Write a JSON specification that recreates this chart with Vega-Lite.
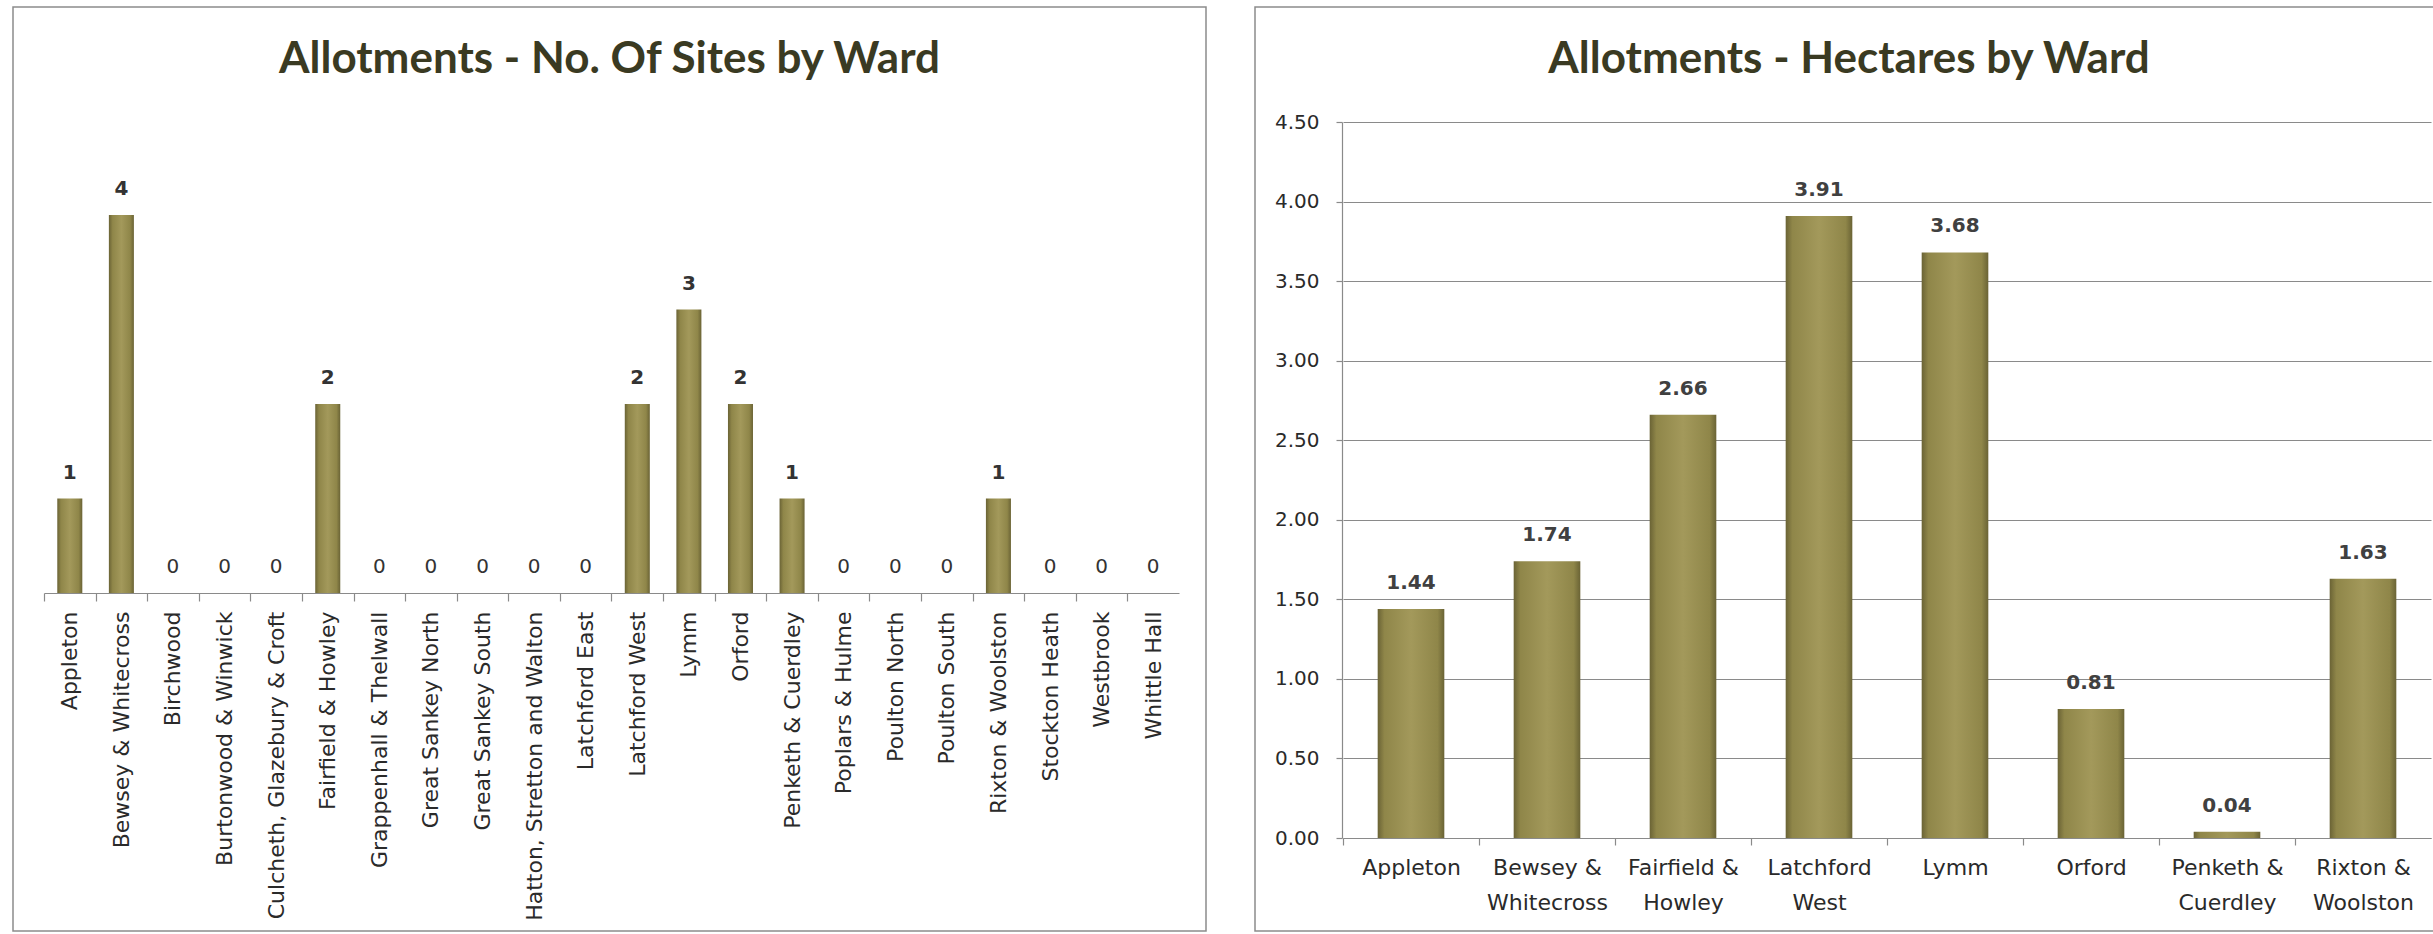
{
  "$schema": "https://vega.github.io/schema/vega-lite/v6.json",
  "padding": {"left": 12, "top": 6, "right": 0, "bottom": 0},
  "background": "white",
  "spacing": 47,
  "config": {
    "view": {"stroke": "#8c8c8c", "strokeWidth": 1.5},
    "font": "DejaVu Sans",
    "axis": {
      "labelFont": "DejaVu Sans",
      "labelColor": "#2a2a2a",
      "domainColor": "#8a8a8a",
      "tickColor": "#8a8a8a",
      "gridColor": "#8a8a8a",
      "domainWidth": 1.2,
      "tickWidth": 1.2,
      "gridWidth": 1.2,
      "title": null
    }
  },
  "hconcat": [
    {
      "width": 1193,
      "height": 924,
      "title": {"text": "Allotments - No. Of Sites by Ward", "font": "Lato", "fontSize": 44, "fontWeight": "bold", "color": "#3a3a22", "offset": -110, "baseline": "alphabetic", "frame": "group", "anchor": "middle"},
      "data": {"values": [
        {"ward": "Appleton", "sites": 1},
        {"ward": "Bewsey & Whitecross", "sites": 4},
        {"ward": "Birchwood", "sites": 0},
        {"ward": "Burtonwood & Winwick", "sites": 0},
        {"ward": "Culcheth, Glazebury & Croft", "sites": 0},
        {"ward": "Fairfield & Howley", "sites": 2},
        {"ward": "Grappenhall & Thelwall", "sites": 0},
        {"ward": "Great Sankey North", "sites": 0},
        {"ward": "Great Sankey South", "sites": 0},
        {"ward": "Hatton, Stretton and Walton", "sites": 0},
        {"ward": "Latchford East", "sites": 0},
        {"ward": "Latchford West", "sites": 2},
        {"ward": "Lymm", "sites": 3},
        {"ward": "Orford", "sites": 2},
        {"ward": "Penketh & Cuerdley", "sites": 1},
        {"ward": "Poplars & Hulme", "sites": 0},
        {"ward": "Poulton North", "sites": 0},
        {"ward": "Poulton South", "sites": 0},
        {"ward": "Rixton & Woolston", "sites": 1},
        {"ward": "Stockton Heath", "sites": 0},
        {"ward": "Westbrook", "sites": 0},
        {"ward": "Whittle Hall", "sites": 0}
      ]},
      "encoding": {
        "x": {
          "field": "ward", "type": "nominal", "sort": null,
          "scale": {"range": [31, 1166], "paddingInner": 0.515, "paddingOuter": 0.2575},
          "axis": {"labelAngle": -90, "labelFontSize": 22, "labelPadding": 10, "tickSize": 8, "offset": -338, "tickOffset": -25.8, "labelOffset": 25.8, "labelLimit": 500, "labelOverlap": false}
        },
        "y": {"field": "sites", "type": "quantitative", "scale": {"domain": [0, 4], "range": [586, 208], "nice": false}, "axis": null}
      },
      "layer": [
        {"mark": {"type": "bar", "fill": {"gradient": "linear", "x1": 0, "x2": 1, "y1": 0, "y2": 0, "stops": [{"offset": 0, "color": "#6a6335"}, {"offset": 0.15, "color": "#8f8649"}, {"offset": 0.5, "color": "#a3995b"}, {"offset": 0.85, "color": "#8f8649"}, {"offset": 1, "color": "#6a6335"}]}}},
        {"transform": [{"filter": "datum.sites > 0"}], "mark": {"type": "text", "dy": -20, "baseline": "alphabetic", "fontSize": 20, "fontWeight": "bold", "color": "#333333"}, "encoding": {"text": {"field": "sites", "type": "quantitative"}}},
        {"transform": [{"filter": "datum.sites == 0"}], "mark": {"type": "text", "dy": -20, "baseline": "alphabetic", "fontSize": 20, "color": "#333333"}, "encoding": {"text": {"field": "sites", "type": "quantitative"}}}
      ]
    },
    {
      "width": 1188,
      "height": 924,
      "title": {"text": "Allotments - Hectares by Ward", "font": "Lato", "fontSize": 44, "fontWeight": "bold", "color": "#3a3a22", "offset": -110, "baseline": "alphabetic", "frame": "group", "anchor": "middle"},
      "data": {"values": [
        {"ward": "Appleton", "hectares": 1.44},
        {"ward": "Bewsey & Whitecross", "hectares": 1.74},
        {"ward": "Fairfield & Howley", "hectares": 2.66},
        {"ward": "Latchford West", "hectares": 3.91},
        {"ward": "Lymm", "hectares": 3.68},
        {"ward": "Orford", "hectares": 0.81},
        {"ward": "Penketh & Cuerdley", "hectares": 0.04},
        {"ward": "Rixton & Woolston", "hectares": 1.63}
      ]},
      "encoding": {
        "x": {
          "field": "ward", "type": "nominal", "sort": null,
          "scale": {"range": [88, 1176], "paddingInner": 0.51, "paddingOuter": 0.255},
          "axis": {"labelAngle": 0, "labelFontSize": 22, "labelPadding": 12, "tickSize": 7, "offset": -93, "tickOffset": -68, "labelOffset": 68, "labelLimit": 500, "labelOverlap": false, "labelLineHeight": 35, "labelBaseline": "top", "labelExpr": "split(replace(replace(datum.label, ' & ', ' &|'), 'Latchford ', 'Latchford|'), '|')"}
        },
        "y": {
          "field": "hectares", "type": "quantitative",
          "scale": {"domain": [0, 4.5], "range": [831, 115], "nice": false},
          "axis": {"values": [0, 0.5, 1, 1.5, 2, 2.5, 3, 3.5, 4, 4.5], "format": ".2f", "offset": -87, "grid": true, "tickSize": 6, "labelPadding": 17, "labelFontSize": 20}
        }
      },
      "layer": [
        {"mark": {"type": "bar", "fill": {"gradient": "linear", "x1": 0, "x2": 1, "y1": 0, "y2": 0, "stops": [{"offset": 0, "color": "#6a6335"}, {"offset": 0.1, "color": "#8f8649"}, {"offset": 0.5, "color": "#a3995b"}, {"offset": 0.9, "color": "#8f8649"}, {"offset": 1, "color": "#6a6335"}]}}},
        {"mark": {"type": "text", "dy": -20, "baseline": "alphabetic", "fontSize": 20, "fontWeight": "bold", "color": "#404040"}, "encoding": {"text": {"field": "hectares", "type": "quantitative", "format": ".2f"}}}
      ]
    }
  ]
}
